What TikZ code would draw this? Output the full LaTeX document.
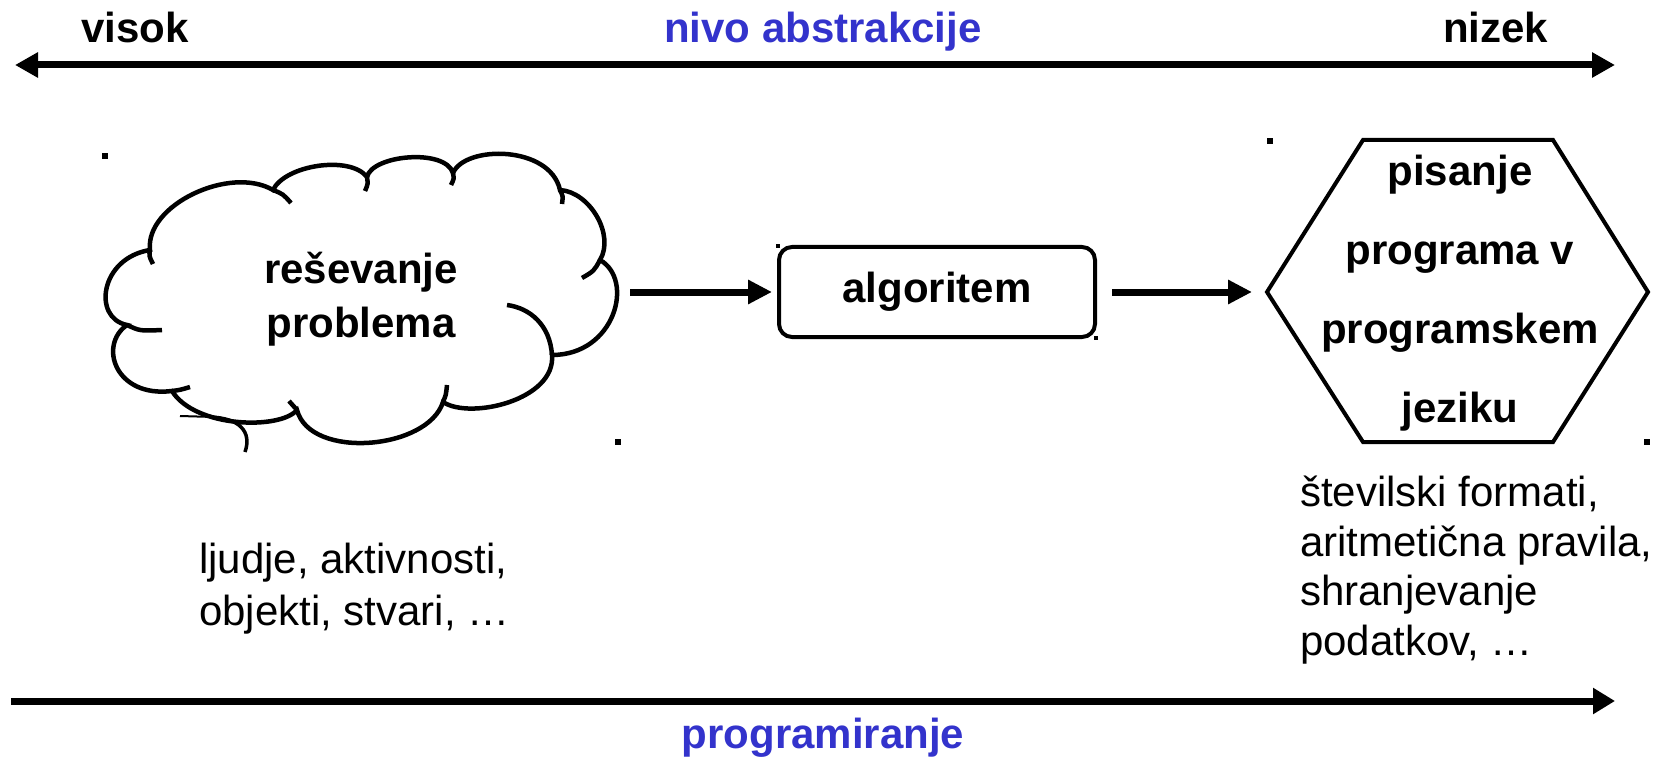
\documentclass[tikz,border=0pt]{standalone}
\usepackage{fontspec}
\setmainfont{Liberation Sans}
\usetikzlibrary{arrows.meta}
\definecolor{lblue}{RGB}{51,51,204}
\begin{document}
\begin{tikzpicture}[x=1pt,y=-1pt,
  txt/.style={inner sep=0pt, outer sep=0pt, font=\fontsize{42}{50}\selectfont},
  boldtxt/.style={inner sep=0pt, outer sep=0pt, font=\fontsize{42}{50}\selectfont\bfseries},
  axis/.style={line width=7pt},
  flow/.style={line width=7pt, -{Triangle[length=24pt,width=23pt]}},
  cloudline/.style={line width=4.5pt},
  shapeline/.style={line width=4pt},
  handle/.style={fill=black, draw=none, inner sep=0pt, outer sep=0pt, minimum size=6pt},
  smallhandle/.style={handle, minimum size=4pt}]
\useasboundingbox (0,0) rectangle (1671,762);

% abstraction axis (top)
\coordinate (tL) at (15,65);
\coordinate (tR) at (1615,65);
\draw[axis, {Triangle[length=23pt,width=24pt]}-{Triangle[length=23pt,width=24pt]}] (tL) -- (tR);
\node[boldtxt, anchor=base west] (visok) at (81,43) {visok};
\node[boldtxt, anchor=base, text=lblue] (nivo) at (823,43) {nivo abstrakcije};
\node[boldtxt, anchor=base west] (nizek) at (1443,43) {nizek};

% programming axis (bottom)
\coordinate (bL) at (11,701);
\coordinate (bR) at (1615,701);
\draw[axis, -{Triangle[length=22pt,width=25pt]}] (bL) -- (bR);
\node[boldtxt, anchor=base, text=lblue] (prog) at (823,748) {programiranje};

% cloud
\draw[cloudline] (150,250)
  .. controls (145,205) and (230,165) .. (273,190)
  .. controls (285,165) and (350,155) .. (367,177)
  .. controls (372,155) and (445,148) .. (453,173)
  .. controls (465,145) and (550,145) .. (560,190)
  .. controls (590,192) and (615,235) .. (600,260)
  .. controls (635,280) and (615,355) .. (552,355)
  .. controls (556,400) and (470,420) .. (443,402)
  .. controls (428,450) and (310,460) .. (297,410)
  .. controls (280,430) and (195,428) .. (172,391)
  .. controls (115,398) and (98,345) .. (127,325)
  .. controls (92,318) and (100,258) .. cycle;
% inner arcs of the cloud
\draw[cloudline] (150,250) .. controls (149,256) .. (153,264);
\draw[cloudline] (273,190) .. controls (283,194) .. (291,203);
\draw[cloudline] (367,177) .. controls (368,184) .. (365,191);
\draw[cloudline] (453,173) .. controls (454,179) .. (451,185);
\draw[cloudline] (560,190) .. controls (563,196) .. (562,204);
\draw[cloudline] (600,260) .. controls (594,271) .. (582,278);
\draw[cloudline] (552,355) .. controls (550,325) and (530,308) .. (507,305);
\draw[cloudline] (443,402) .. controls (446,395) .. (447,385);
\draw[cloudline] (297,410) .. controls (293,406) .. (289,401);
\draw[cloudline] (172,391) .. controls (180,390) .. (190,387);
\draw[cloudline] (127,325) .. controls (140,331) .. (162,330);
\draw[line width=2pt] (180,416) -- (214,417);
\draw[line width=3.5pt] (210,417) .. controls (240,418) and (252,432) .. (245,452);
\node[boldtxt, align=center, font=\fontsize{42}{54}\selectfont\bfseries, anchor=base] (cloud) at (361,337) {reševanje\\problema};
\node[handle] (h1) at (105,156) {};
\node[handle] (h2) at (618,442) {};

% algorithm box
\node[boldtxt, draw, shapeline, rounded corners=13pt, minimum width=316pt, minimum height=90pt] (algo) at (937,292) {};
\node[boldtxt, anchor=base] (algotxt) at (937,302) {algoritem};
\node[smallhandle] (h3) at (778,246) {};
\node[smallhandle] (h4) at (1096,338) {};

% hexagon
\coordinate (hW) at (1267,292);
\coordinate (hNW) at (1363,140);
\coordinate (hNE) at (1553,140);
\coordinate (hE) at (1648,292);
\coordinate (hSE) at (1553,442);
\coordinate (hSW) at (1363,442);
\draw[shapeline, line join=miter] (hW) -- (hNW) -- (hNE) -- (hE) -- (hSE) -- (hSW) -- cycle;
\node[boldtxt, align=center, font=\fontsize{42}{79}\selectfont\bfseries, anchor=base] (hex) at (1460,422) {pisanje\\programa v\\programskem\\jeziku};
\node[handle] (h5) at (1270,141) {};
\node[handle] (h6) at (1647,442) {};

% connectors
\coordinate (cloudE) at (630,292);
\draw[flow, shorten >=7pt] (cloudE) -- (cloudE -| algo.west);
\draw[flow, shorten <=17pt, shorten >=15pt] (algo.east |- hW) -- (hW);

% side notes
\node[txt, align=left, font=\fontsize{42}{52}\selectfont, anchor=base west] (left) at (199,625) {ljudje, aktivnosti,\\objekti, stvari, …};
\node[txt, align=left, font=\fontsize{42}{49.5}\selectfont, anchor=base west] (right) at (1300,655) {številski formati,\\aritmetična pravila,\\shranjevanje\\podatkov, …};
\end{tikzpicture}
\end{document}
